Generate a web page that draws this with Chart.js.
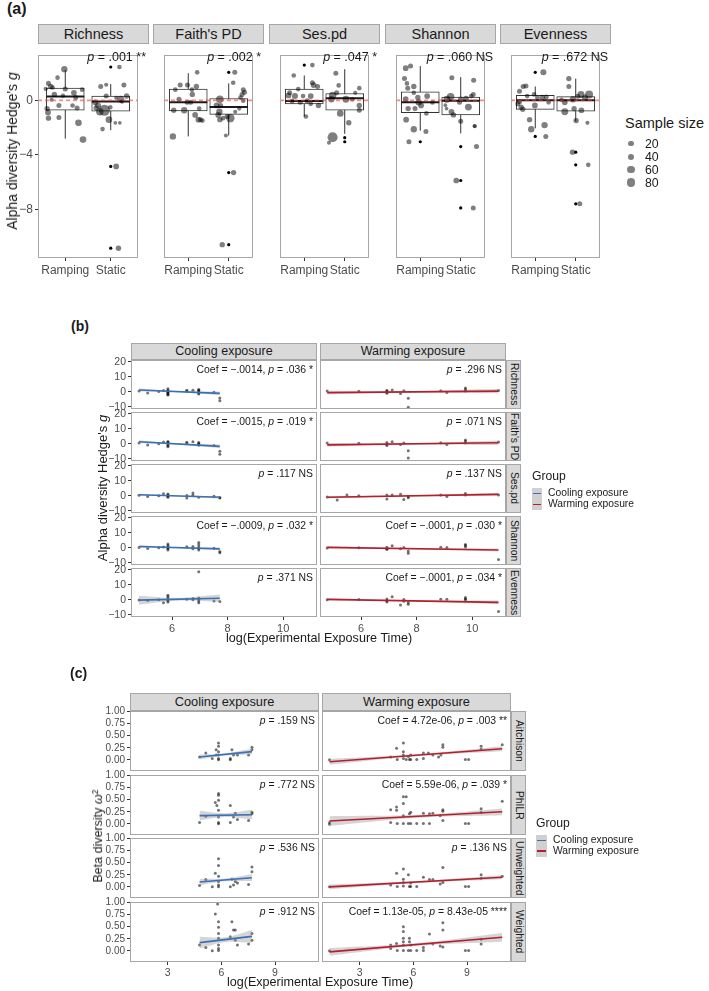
<!DOCTYPE html>
<html>
<head>
<meta charset="utf-8">
<script src="https://cdn.jsdelivr.net/npm/chart.js@4.4.1/dist/chart.umd.min.js"></script>
<style>
  body { margin: 0; background: #fff; }
  #fig { position: relative; width: 709px; height: 991px; overflow: hidden; background: #fff;
         font-family: "Liberation Sans", Arial, sans-serif; color: #1a1a1a; }
  #fig canvas { position: absolute; }
  .t { position: absolute; white-space: nowrap; line-height: 1; }
  .strip { position: absolute; box-sizing: border-box; background: #d9d9d9; border: 1px solid #a6a6a6;
           display: flex; align-items: center; justify-content: center; white-space: nowrap; line-height: 1; }
  .tag { font-weight: bold; }
</style>
</head>
<body>
<div id="fig"></div>
<script>
// ---------- (a) alpha diversity: ramping vs static ----------
const metricsA = ['Richness', "Faith's PD", 'Ses.pd', 'Shannon', 'Evenness'];
const groupsA = ['Ramping', 'Static'];
const pTextA = ['.001 **', '.002 *', '.047 *', '.060 NS', '.672 NS'];
const sizeBreaks = [20, 40, 60, 80];

// box stats per group: [lower whisker, Q1, median, Q3, upper whisker]
const boxRichness = [[-2.80, -0.72, 0.28, 0.90, 2.22], [-2.18, -0.79, -0.07, 0.32, 1.20]];
const boxFaith    = [[-2.64, -0.76, -0.14, 0.83, 1.99], [-2.57, -1.02, -0.49, 0.14, 1.25]];
const boxSes      = [[-1.18, -0.25, -0.05, 0.83, 1.83], [-2.45, -0.72, 0.16, 0.51, 2.29]];
const boxShannon  = [[-2.22, -0.90, -0.14, 0.63, 2.52], [-2.41, -1.06, -0.02, 0.25, 1.71]];
const boxEvenness = [[-2.04, -0.65, 0.02, 0.37, 1.02], [-1.53, -0.79, 0.02, 0.28, 1.60]];

// boxplot outliers per group
const outRichness = [[], [2.45, -4.84, -10.83]];
const outFaith    = [[], [2.06, -5.29, -10.57]];
const outSes      = [[2.59], [-2.73, -3.03]];
const outShannon  = [[-3.03], [-3.38, -5.87, -7.88]];
const outEvenness = [[2.06, -2.64], [-3.79, -4.72, -7.58]];

// jittered studies: [x position, Hedge's g, sample size]
const ptsRichness = [
  [0.98, 2.29, 40], [0.83, 1.67, 15], [0.63, 1.25, 20], [0.68, 1.02, 25], [0.57, 0.85, 12], [0.72, 0.95, 15],
  [1.00, 0.83, 20], [1.19, 0.56, 30], [1.23, 0.21, 20], [1.37, 0.79, 15], [0.76, 0.44, 25], [0.95, 0.35, 12],
  [0.86, -0.37, 20], [0.60, -0.60, 25], [0.62, -0.88, 30], [0.63, -1.30, 25], [0.86, -1.25, 20], [1.16, -0.37, 15],
  [1.26, -0.56, 20], [1.29, -1.64, 45], [1.39, -2.87, 45], [0.70, 0.05, 10],
  [1.78, 1.02, 20], [1.90, 1.15, 10], [2.29, 1.13, 20], [2.19, 2.45, 15], [1.66, -0.14, 30], [1.72, -0.37, 35],
  [1.76, -0.83, 60], [1.86, -0.72, 150], [1.90, 0.32, 20], [1.99, -0.50, 15], [2.22, 0.09, 50], [2.35, 0.32, 25],
  [1.96, -1.41, 45], [1.82, -2.10, 15], [2.10, -1.64, 5], [2.20, -1.64, 5], [2.12, 0.20, 8], [2.25, -0.10, 8],
  [1.68, -0.55, 25], [2.12, -4.84, 30], [2.17, -10.84, 25]
];
const ptsFaith = [
  [1.22, 2.06, 15], [0.80, 1.13, 20], [0.98, 1.13, 20], [1.20, 1.02, 25], [0.68, 0.79, 15], [1.09, 0.79, 15],
  [1.10, 0.44, 25], [0.77, 0.09, 20], [0.97, -0.14, 20], [1.06, -0.14, 20], [0.90, -0.72, 40], [0.64, -0.72, 25],
  [1.17, -1.06, 30], [1.25, -1.41, 30], [1.30, -1.41, 20], [1.35, -1.48, 15], [0.62, -2.64, 40], [1.27, -0.60, 15],
  [2.15, 2.06, 20], [2.11, 1.30, 15], [2.36, 0.79, 20], [2.39, 0.60, 20], [2.33, 0.44, 20], [2.29, 0.21, 15],
  [1.78, 0.09, 60], [1.70, -0.37, 30], [1.80, -0.37, 20], [1.77, -0.83, 40], [1.74, -1.06, 30], [1.78, -1.41, 25],
  [2.04, -1.30, 80], [1.96, -1.18, 20], [1.86, -1.30, 15], [2.16, -0.83, 10], [2.26, -0.60, 10], [2.36, -0.02, 15],
  [1.93, -2.57, 8], [2.12, -5.29, 25], [1.84, -10.57, 25]
];
const ptsSes = [
  [1.20, 2.59, 15], [0.74, 1.83, 15], [1.20, 1.30, 20], [1.23, 1.13, 30], [1.33, 1.02, 20], [0.85, 0.83, 15],
  [0.64, 0.56, 20], [0.77, 0.32, 35], [0.61, 0.37, 30], [1.16, 0.32, 30], [0.97, 0.32, 15], [0.90, -0.14, 20],
  [1.07, -0.02, 20], [1.16, -0.25, 15], [1.35, -0.37, 25], [1.04, -1.18, 15], [0.70, -0.05, 20],
  [1.78, 1.99, 20], [2.36, 0.90, 15], [2.26, 0.56, 10], [1.70, 0.37, 60], [1.67, 0.09, 40], [1.80, 0.56, 20],
  [2.03, 0.09, 50], [2.19, 0.09, 15], [2.36, -0.37, 25], [1.89, -0.95, 45], [2.10, -1.64, 25], [1.70, -2.70, 120],
  [2.36, -0.72, 20], [1.85, 1.10, 15], [1.61, -3.10, 8]
];
const ptsShannon = [
  [0.64, 2.36, 30], [0.76, 2.52, 20], [0.61, 1.60, 20], [0.67, 1.25, 15], [0.84, 1.02, 25], [0.69, 0.90, 20],
  [0.84, 0.56, 15], [0.64, 0.09, 30], [0.94, 0.21, 25], [1.17, 0.32, 30], [0.70, -0.60, 25], [0.96, -0.14, 40],
  [1.02, -0.37, 30], [0.87, -0.60, 20], [0.65, -1.41, 30], [1.15, -0.95, 15], [0.84, -2.11, 40], [1.14, -2.27, 20],
  [0.72, -3.03, 20], [1.30, -0.15, 15],
  [1.78, 1.67, 20], [2.32, 1.48, 20], [1.66, 0.09, 50], [1.75, 0.28, 60], [2.13, 0.14, 30], [2.00, 0.09, 25],
  [1.97, -0.14, 20], [2.26, 0.32, 15], [2.31, 0.44, 20], [2.19, -0.49, 50], [1.77, -0.83, 30], [1.82, -1.06, 25],
  [2.00, -1.53, 20], [2.34, -1.88, 8], [2.35, -1.90, 8], [2.39, -3.38, 20], [1.89, -5.87, 30], [2.31, -7.88, 20],
  [1.62, -0.35, 5], [1.65, -0.60, 5]
];
const ptsEvenness = [
  [1.20, 2.06, 35], [0.77, 1.06, 20], [0.70, 1.02, 20], [0.61, 0.67, 20], [0.80, 0.32, 15], [0.97, 0.44, 15],
  [1.17, 0.21, 25], [1.27, 0.25, 20], [1.33, -0.14, 15], [0.61, -0.09, 20], [0.65, -0.49, 25], [0.69, -0.65, 25],
  [0.57, -0.25, 20], [0.99, -0.37, 30], [0.86, -1.41, 25], [0.90, -2.11, 40], [1.23, -1.81, 40], [1.26, -2.64, 20],
  [1.05, 0.20, 15],
  [1.83, 1.60, 25], [1.83, 1.02, 20], [2.13, 0.44, 50], [2.33, 0.44, 70], [2.23, 0.21, 35], [1.93, 0.09, 40],
  [1.73, -0.14, 30], [1.73, -0.83, 50], [1.96, -0.60, 25], [2.14, -0.72, 30], [2.01, -1.48, 25], [2.29, -1.64, 10],
  [1.92, -3.79, 25], [2.10, -7.58, 20], [2.31, -4.72, 15], [2.05, 0.30, 20], [1.65, 0.05, 15]
];

// ---------- (b) alpha diversity vs log exposure time ----------
const bFacets = ['Richness', "Faith's PD", 'Ses.pd', 'Shannon', 'Evenness'];
const bCoolText = ['Coef = \u2212.0014, <i>p</i> = .036 *', 'Coef = \u2212.0015, <i>p</i> = .019 *', '<i>p</i> = .117 NS',
                   'Coef = \u2212.0009, <i>p</i> = .032 *', '<i>p</i> = .371 NS'];
const bWarmText = ['<i>p</i> = .296 NS', '<i>p</i> = .071 NS', '<i>p</i> = .137 NS',
                   'Coef = \u2212.0001, <i>p</i> = .030 *', 'Coef = \u2212.0001, <i>p</i> = .034 *'];
const bCoolPts = [
  [[4.81,0.5],[5.12,-0.8],[5.52,0.1],[5.69,0.8],[5.85,2.0],[5.85,1.0],[5.85,0.3],[5.85,0.0],[5.85,-0.5],[5.85,-1.2],[5.85,-1.8],[5.85,-2.2],[6.53,0.9],[6.53,0.3],[6.75,1.0],[6.96,1.5],[6.96,1.0],[6.96,0.5],[6.96,-0.4],[6.96,-0.9],[6.96,-1.5],[7.51,-0.3],[7.72,-4.2],[7.72,-6.0]],
  [[4.81,0.5],[5.12,-0.9],[5.52,0.0],[5.69,1.2],[5.85,1.5],[5.85,0.9],[5.85,0.5],[5.85,-0.5],[5.85,-1.3],[5.85,-2.0],[6.53,1.0],[6.53,0.2],[6.75,1.3],[6.96,0.8],[6.96,0.2],[6.96,-0.5],[6.96,-1.0],[7.51,-1.2],[7.72,-5.0],[7.72,-7.0]],
  [[4.81,0.3],[5.12,-0.5],[5.52,0.0],[5.69,1.3],[5.85,1.2],[5.85,0.5],[5.85,0.0],[5.85,-0.4],[5.85,-1.1],[6.53,0.1],[6.53,-1.5],[6.75,1.8],[6.75,0.3],[6.96,-1.0],[7.51,-0.4],[7.72,-1.2],[7.72,-1.6]],
  [[4.81,0.2],[5.12,-0.5],[5.52,0.0],[5.69,0.5],[5.85,2.5],[5.85,1.5],[5.85,0.5],[5.85,0.0],[5.85,-0.5],[5.85,-1.5],[6.53,0.6],[6.75,0.8],[6.75,-0.7],[6.96,3.5],[6.96,2.0],[6.96,0.5],[6.96,-0.5],[6.96,-1.5],[7.51,-0.3],[7.72,-2.5],[7.72,-3.4]],
  [[4.81,-0.2],[5.12,-0.5],[5.52,0.0],[5.69,-2.0],[5.85,3.0],[5.85,2.0],[5.85,0.8],[5.85,0.0],[5.85,-0.5],[5.85,-1.5],[6.53,0.3],[6.75,0.8],[6.75,0.0],[6.96,18.7],[6.96,1.2],[6.96,0.3],[6.96,-0.8],[6.96,-2.0],[7.51,-0.8],[7.72,-1.2]]
];
const bWarmPts = [
  [[4.78,0.5],[5.92,0.3],[6.93,0.8],[6.93,0.4],[6.93,-0.3],[6.93,-1.0],[7.12,1.2],[7.42,-1.2],[7.54,0.7],[7.70,-4.4],[7.70,-10.4],[8.87,0.6],[9.09,-0.5],[9.76,2.5],[9.76,1.5],[9.76,0.5],[10.95,0.8]],
  [[4.78,0.5],[5.92,0.3],[6.93,0.8],[6.93,-0.3],[6.93,-1.2],[7.12,1.3],[7.42,-0.5],[7.54,0.5],[7.70,-4.7],[7.70,-9.5],[8.87,0.6],[9.09,-0.5],[9.76,2.5],[9.76,1.5],[9.76,0.5],[10.95,1.2]],
  [[4.78,-0.8],[5.14,-2.9],[5.49,0.4],[5.92,0.0],[6.93,0.5],[6.93,-2.2],[7.12,0.5],[7.42,0.9],[7.54,-2.5],[7.70,-1.3],[7.70,-0.6],[8.87,0.4],[9.09,-0.5],[9.76,1.5],[9.76,0.5],[10.95,0.4]],
  [[4.78,-0.2],[5.92,0.0],[6.93,0.3],[6.93,-0.8],[6.93,-1.0],[7.12,1.3],[7.42,-0.7],[7.54,0.2],[7.70,-2.2],[7.70,-3.7],[8.87,0.3],[9.09,0.1],[9.76,2.2],[9.76,1.5],[9.76,0.5],[10.95,-7.8]],
  [[4.78,0.0],[5.92,0.2],[6.93,0.5],[6.93,-0.7],[6.93,-1.5],[7.12,2.0],[7.42,-3.5],[7.54,0.2],[7.54,-1.0],[7.70,-3.0],[7.70,-1.8],[8.87,0.3],[9.09,0.3],[9.76,1.5],[9.76,0.5],[9.76,0.0],[10.95,-7.8]]
];
// fitted line [x0, y0, x1, y1] and confidence band [x, lower, upper]
const bCoolFit = [[4.81,1.1,7.72,-1.1],[4.81,1.3,7.72,-1.8],[4.81,0.6,7.72,-1.0],[4.81,0.8,7.72,-0.8],[4.81,-0.3,7.72,1.0]];
const bWarmFit = [[4.78,-0.6,10.95,0.4],[4.78,-0.8,10.95,0.6],[4.78,-1.0,10.95,0.9],[4.78,0.2,10.95,-1.5],[4.78,0.2,10.95,-1.8]];
const bCoolBand = [
  [[4.81,0.1,2.1],[6.2,-0.35,0.45],[7.72,-2.3,0.1]],
  [[4.81,0.3,2.3],[6.2,-0.58,0.22],[7.72,-3.0,-0.6]],
  [[4.81,-0.1,1.3],[6.2,-0.46,0.14],[7.72,-1.8,-0.2]],
  [[4.81,0.0,1.6],[6.2,-0.26,0.34],[7.72,-1.7,0.1]],
  [[4.81,-3.3,2.7],[6.2,-0.7,1.3],[7.72,-1.5,3.5]]
];
const bWarmBand = [
  [[4.78,-1.8,0.6],[7.5,-0.56,0.24],[10.95,-1.1,1.9]],
  [[4.78,-2.0,0.4],[7.5,-0.58,0.22],[10.95,-0.9,2.1]],
  [[4.78,-1.8,-0.2],[7.5,-0.46,0.14],[10.95,-0.1,1.9]],
  [[4.78,-0.6,1.0],[7.5,-0.85,-0.25],[10.95,-2.5,-0.5]],
  [[4.78,-0.6,1.0],[7.5,-0.98,-0.38],[10.95,-3.0,-0.6]]
];

// ---------- (c) beta diversity vs log exposure time ----------
const cFacets = ['Aitchison', 'PhILR', 'Unweighted', 'Weighted'];
const cCoolText = ['<i>p</i> = .159 NS', '<i>p</i> = .772 NS', '<i>p</i> = .536 NS', '<i>p</i> = .912 NS'];
const cWarmText = ['Coef = 4.72e-06, <i>p</i> = .003 **', 'Coef = 5.59e-06, <i>p</i> = .039 *', '<i>p</i> = .136 NS',
                   'Coef = 1.13e-05, <i>p</i> = 8.43e-05 ****'];
const cCoolPts = [
  [[4.78,0.06],[5.13,0.14],[5.49,0.03],[5.71,0.21],[5.71,0.10],[5.84,0.35],[5.84,0.28],[5.84,0.17],[5.84,0.10],[5.84,0.03],[5.84,0.0],[6.50,0.0],[6.50,0.03],[6.59,0.21],[6.68,0.10],[6.90,0.10],[7.52,0.10],[7.71,0.26],[7.71,0.21]],
  [[4.78,0.03],[5.13,0.16],[5.66,0.44],[5.75,0.38],[5.84,0.63],[5.84,0.59],[5.84,0.49],[5.84,0.28],[5.84,0.14],[5.84,0.03],[5.84,0.0],[6.50,0.38],[6.50,0.03],[6.68,0.14],[6.78,0.22],[6.90,0.09],[7.52,0.07],[7.71,0.24],[7.71,0.21]],
  [[4.78,0.03],[5.13,0.15],[5.49,0.0],[5.66,0.28],[5.84,0.58],[5.84,0.44],[5.84,0.22],[5.84,0.11],[5.84,0.04],[5.84,0.0],[6.50,0.0],[6.59,0.16],[6.68,0.04],[6.78,0.11],[6.90,0.08],[7.52,0.05],[7.71,0.41],[7.71,0.31]],
  [[4.78,0.12],[5.13,0.07],[5.49,0.0],[5.66,0.76],[5.79,0.97],[5.84,0.60],[5.84,0.49],[5.84,0.36],[5.84,0.26],[5.84,0.12],[5.84,0.05],[5.84,0.01],[6.50,0.29],[6.59,0.60],[6.68,0.43],[6.78,0.43],[6.90,0.12],[6.78,0.22],[7.52,0.14],[7.71,0.36],[7.71,0.22]]
];
const cWarmPts = [
  [[1.31,0.0],[4.73,0.06],[5.06,0.24],[5.10,0.01],[5.44,0.35],[5.44,0.17],[5.44,0.10],[5.44,0.03],[5.60,0.01],[5.72,0.07],[5.78,0.01],[5.85,0.01],[5.85,0.10],[6.19,0.01],[6.56,0.14],[6.56,0.03],[6.84,0.14],[7.09,0.10],[7.41,0.06],[7.54,0.10],[7.65,0.31],[7.65,0.26],[8.91,0.01],[9.09,0.01],[9.79,0.28],[9.79,0.22],[10.97,0.31]],
  [[1.31,0.03],[1.31,-0.01],[4.73,0.03],[4.73,0.29],[5.06,0.35],[5.06,0.28],[5.10,0.01],[5.44,0.56],[5.60,0.56],[5.44,0.42],[5.44,0.17],[5.44,0.01],[5.72,0.01],[5.85,0.01],[5.78,0.21],[5.85,0.24],[6.19,0.01],[6.56,0.22],[6.56,0.01],[6.90,0.01],[6.90,0.21],[7.09,0.22],[7.50,0.17],[7.65,0.29],[7.65,0.26],[7.65,0.07],[8.91,0.01],[9.09,0.01],[9.79,0.31],[9.79,0.24],[10.97,0.47]],
  [[1.31,0.0],[4.73,0.04],[5.06,0.28],[5.10,0.01],[5.44,0.37],[5.44,0.16],[5.44,0.09],[5.44,0.02],[5.72,0.25],[5.78,0.01],[5.85,0.01],[5.85,0.08],[6.19,0.01],[6.56,0.20],[6.90,0.15],[7.09,0.15],[7.50,0.06],[7.65,0.09],[7.65,0.40],[8.91,0.01],[9.09,0.01],[9.79,0.25],[9.79,0.18],[10.97,0.22]],
  [[1.31,0.0],[4.73,0.05],[4.73,0.12],[5.06,0.15],[5.10,0.01],[5.44,0.50],[5.44,0.40],[5.44,0.26],[5.44,0.19],[5.44,0.12],[5.44,0.01],[5.78,0.26],[5.78,0.19],[5.72,0.01],[5.85,0.01],[5.85,0.12],[6.19,0.01],[6.56,0.07],[6.56,0.01],[6.90,0.35],[7.09,0.14],[7.50,0.10],[7.65,0.58],[7.65,0.43],[7.65,0.08],[8.91,0.01],[9.09,0.01],[9.79,0.24],[9.79,0.14]]
];
const cCoolFit = [[4.78,0.06,7.71,0.17],[4.78,0.17,7.71,0.19],[4.78,0.10,7.71,0.19],[4.78,0.17,7.71,0.30]];
const cWarmFit = [[1.31,-0.04,10.97,0.23],[1.31,0.06,10.97,0.25],[1.31,0.0,10.97,0.20],[1.31,-0.02,10.97,0.28]];
const cCoolBand = [
  [[4.78,0.01,0.11],[6.2,0.088,0.138],[7.71,0.11,0.23]],
  [[4.78,0.07,0.27],[6.2,0.14,0.22],[7.71,0.09,0.29]],
  [[4.78,0.03,0.17],[6.2,0.114,0.174],[7.71,0.12,0.26]],
  [[4.78,0.05,0.29],[6.2,0.18,0.28],[7.71,0.17,0.43]]
];
const cWarmBand = [
  [[1.31,-0.10,0.02],[6.3,0.08,0.12],[10.97,0.18,0.28]],
  [[1.31,-0.04,0.16],[6.3,0.128,0.188],[10.97,0.18,0.32]],
  [[1.31,-0.05,0.05],[6.3,0.083,0.123],[10.97,0.16,0.24]],
  [[1.31,-0.10,0.06],[6.3,0.105,0.165],[10.97,0.19,0.37]]
];

// ---------- drawing ----------
Chart.defaults.font.family = '"Liberation Sans", Arial, sans-serif';
const fig = document.getElementById('fig');
const M = 10;  // spare room round each canvas so edge tick labels are not cut
const TICK = '#4d4d4d', FRAME = '#a6a6a6', LINE = '#333333';
const BLUE = '#3a70b5', RED = '#b51f2a', BAND = 'rgba(150,150,150,0.4)';
const sizeR = n => Math.sqrt(2.5 + 0.19 * n);
const minus = v => (v < 0 ? '\u2212' + Math.abs(v) : String(v));

const frame = {
  id: 'frame',
  afterDraw(chart) {
    const { ctx, chartArea: a } = chart;
    ctx.save();
    ctx.strokeStyle = FRAME;
    ctx.lineWidth = 1;
    ctx.strokeRect(a.left + 0.5, a.top + 0.5, a.width - 1, a.height - 1);
    ctx.restore();
  }
};

function axis(a, show, size, isX) {
  return {
    type: 'linear', min: a.range[0], max: a.range[1], display: show,
    offset: false, beginAtZero: false,
    afterBuildTicks: s => { s.ticks = a.ticks.map(v => ({ value: v })); },
    afterFit: s => {
      if (isX) s.height = size; else s.width = size;
      s.paddingLeft = s.paddingRight = s.paddingTop = s.paddingBottom = 0;
    },
    grid: { offset: false, drawOnChartArea: false, drawTicks: true, tickLength: 3, color: LINE, lineWidth: 1 },
    border: { display: false },
    ticks: { color: TICK, font: { size: a.font }, padding: 2, autoSkip: false, maxRotation: 0, callback: a.fmt }
  };
}

function panel(box, datasets, xa, ya) {
  const axL = ya.show ? ya.size : 0, axB = xa.show ? xa.size : 0;
  const cv = document.createElement('canvas');
  cv.width = box.w + axL + 2 * M;
  cv.height = box.h + axB + 2 * M;
  cv.style.left = (box.x - axL - M) + 'px';
  cv.style.top = (box.y - M) + 'px';
  fig.appendChild(cv);
  return new Chart(cv, {
    type: 'scatter',
    data: { datasets },
    options: {
      responsive: false, animation: false, devicePixelRatio: 1, events: [],
      layout: { padding: M },
      plugins: { legend: { display: false }, tooltip: { enabled: false } },
      scales: { x: axis(xa, xa.show, axB, true), y: axis(ya, ya.show, axL, false) }
    },
    plugins: [frame]
  });
}

function text(html, x, y, css, tf) {
  const d = document.createElement('div');
  d.className = 't';
  d.innerHTML = html;
  d.style.cssText = `left:${x}px;top:${y}px;transform:${tf || 'translate(0,-50%)'};` + (css || '');
  fig.appendChild(d);
  return d;
}

function strip(label, x, y, w, h, size, side) {
  const d = document.createElement('div');
  d.className = 'strip';
  d.style.cssText = `left:${x}px;top:${y}px;width:${w}px;height:${h}px;font-size:${size}px;`;
  const s = document.createElement('span');
  s.textContent = label;
  if (side) s.style.writingMode = 'vertical-rl';
  d.appendChild(s);
  fig.appendChild(d);
}

// (a)
text('(a)', 7, 9, 'font-size:16px;', 'translate(0,-50%)').classList.add('tag');
const boxesA = [boxRichness, boxFaith, boxSes, boxShannon, boxEvenness];
const outA = [outRichness, outFaith, outSes, outShannon, outEvenness];
const ptsA = [ptsRichness, ptsFaith, ptsSes, ptsShannon, ptsEvenness];
const aLeft = [38, 153, 269, 385, 500], aW = 111, aTop = 44, aH = 214;

metricsA.forEach((m, i) => {
  strip(m, aLeft[i], 24, aW, 20, 14.5);
  const box = boxesA[i];
  const ds = [];
  box.forEach((b, k) => ds.push({
    type: 'line', data: [{ x: k + 1, y: b[0] }, { x: k + 1, y: b[4] }],
    borderColor: LINE, borderWidth: 1, pointRadius: 0, order: 6
  }));
  ds.push({
    type: 'bar', data: box.map((b, k) => ({ x: k + 1, y: [b[1], b[3]] })),
    backgroundColor: '#ffffff', borderColor: LINE, borderWidth: 1, borderSkipped: false, barThickness: 38, order: 5
  });
  ds.push({
    data: box.map((b, k) => ({ x: k + 1, y: b[2] })),
    pointStyle: 'line', pointRadius: 19, borderColor: '#1a1a1a', borderWidth: 2, order: 4
  });
  ds.push({
    data: outA[i].flatMap((o, k) => o.map(v => ({ x: k + 1, y: v }))),
    pointRadius: 1.6, backgroundColor: '#000', borderWidth: 0, order: 3
  });
  ds.push({
    data: ptsA[i].map(p => ({ x: p[0], y: p[1], n: p[2] })),
    pointRadius: c => (c.raw ? sizeR(c.raw.n) : 2), backgroundColor: 'rgba(0,0,0,0.5)', borderWidth: 0, order: 2
  });
  ds.push({
    type: 'line', data: [{ x: 0.4, y: 0 }, { x: 2.6, y: 0 }],
    borderColor: 'rgba(245,60,50,0.6)', borderWidth: 1.8, borderDash: [4, 3], pointRadius: 0, order: 1
  });
  panel({ x: aLeft[i], y: aTop, w: aW, h: aH }, ds,
    { show: true, size: 20, range: [0.4, 2.6], ticks: [1, 2], fmt: v => groupsA[v - 1], font: 12 },
    { show: i === 0, size: 22, range: [-11.55, 3.33], ticks: [-8, -4, 0], fmt: minus, font: 12 });
  text(`<i>p</i> = ${pTextA[i]}`, aLeft[i] + aW - 3, 57, 'font-size:12.5px;', 'translate(-100%,-50%)');
});
text("Alpha diversity Hedge's <i>g</i>", 12, 151, 'font-size:14px;', 'translate(-50%,-50%) rotate(-90deg)');

text('Sample size', 625, 123, 'font-size:14.5px;');
sizeBreaks.forEach((n, k) => {
  const y = 143.7 + 13 * k, r = sizeR(n);
  const dot = document.createElement('div');
  dot.style.cssText = `position:absolute;left:${631 - r}px;top:${y - r}px;width:${2 * r}px;height:${2 * r}px;border-radius:50%;background:rgba(0,0,0,0.5);`;
  fig.appendChild(dot);
  text(String(n), 645, y, 'font-size:12.3px;');
});

// (b) and (c) facet grids
function facetSets(pts, fit, band, color) {
  return [
    { type: 'line', data: band.map(b => ({ x: b[0], y: b[2] })), fill: '+1', backgroundColor: BAND,
      borderColor: 'rgba(0,0,0,0)', borderWidth: 1, pointRadius: 0, tension: 0.4, order: 2 },
    { type: 'line', data: band.map(b => ({ x: b[0], y: b[1] })), fill: false,
      borderColor: 'rgba(0,0,0,0)', borderWidth: 1, pointRadius: 0, tension: 0.4, order: 2 },
    { type: 'line', data: [{ x: fit[0], y: fit[1] }, { x: fit[2], y: fit[3] }],
      borderColor: color, borderWidth: 1.6, pointRadius: 0, order: 1 },
    { data: pts.map(p => ({ x: p[0], y: p[1] })), pointRadius: 1.5,
      backgroundColor: 'rgba(0,0,0,0.55)', borderWidth: 0, order: 3 }
  ];
}

function facetGrid(g) {
  g.cols.forEach((col, j) => {
    strip(col.name, g.x[j], g.stripY, g.w, g.stripH, g.stripFont);
    g.rows.forEach((row, r) => {
      const x = g.x[j], y = g.y[r];
      panel({ x, y, w: g.w, h: g.h }, facetSets(col.pts[r], col.fit[r], col.band[r], col.color),
        { show: r === g.rows.length - 1, size: g.axB, range: g.xRange, ticks: g.xTicks, fmt: v => String(v), font: g.xFont },
        { show: j === 0, size: g.axL, range: g.yRange, ticks: g.yTicks, fmt: g.yFmt, font: g.yFont });
      text(col.text[r], x + g.w - 4, y + 9.5, 'font-size:10.4px;', 'translate(-100%,-50%)');
      if (j === g.cols.length - 1) strip(row, x + g.w, y, 15, g.h, 10.3, true);
    });
  });
}

function groupLegend(x, yTitle, yKeys, keyW, textX) {
  text('Group', x, yTitle, 'font-size:12.2px;');
  [['Cooling exposure', BLUE], ['Warming exposure', RED]].forEach(([name, col], k) => {
    const y = yKeys[k];
    const key = document.createElement('div');
    key.style.cssText = `position:absolute;left:${x}px;top:${y - 5.5}px;width:${keyW}px;height:11px;background:#d0d0d0;`;
    const ln = document.createElement('div');
    ln.style.cssText = `position:absolute;left:1px;right:1px;top:4.75px;height:1.5px;background:${col};`;
    key.appendChild(ln);
    fig.appendChild(key);
    text(name, textX, y, 'font-size:10.3px;');
  });
}

text('(b)', 71, 326, 'font-size:14px;').classList.add('tag');
facetGrid({
  rows: bFacets, x: [131, 320], w: 186, y: [360, 412, 464, 516, 568], h: 49,
  stripY: 343, stripH: 17, stripFont: 12.5,
  xRange: [4.52, 11.22], xTicks: [6, 8, 10], xFont: 11, axB: 18,
  yRange: [-11.53, 21.13], yTicks: [-10, 0, 10, 20], yFmt: minus, yFont: 10.5, axL: 30,
  cols: [
    { name: 'Cooling exposure', pts: bCoolPts, fit: bCoolFit, band: bCoolBand, text: bCoolText, color: BLUE },
    { name: 'Warming exposure', pts: bWarmPts, fit: bWarmFit, band: bWarmBand, text: bWarmText, color: RED }
  ]
});
text("Alpha diversity Hedge's <i>g</i>", 102, 488, 'font-size:13px;', 'translate(-50%,-50%) rotate(-90deg)');
text('log(Experimental Exposure Time)', 319, 638, 'font-size:12.6px;', 'translate(-50%,-50%)');
groupLegend(532, 476, [493.3, 504.3], 10, 548);

text('(c)', 70, 673, 'font-size:14px;').classList.add('tag');
facetGrid({
  rows: cFacets, x: [130, 322], w: 189, y: [711, 775, 838, 902], h: 60,
  stripY: 693, stripH: 18, stripFont: 12.8,
  xRange: [0.89, 11.46], xTicks: [3, 6, 9], xFont: 10.5, axB: 18,
  yRange: [-0.23, 1.01], yTicks: [0, 0.25, 0.5, 0.75, 1], yFmt: v => v.toFixed(2), yFont: 10, axL: 34,
  cols: [
    { name: 'Cooling exposure', pts: cCoolPts, fit: cCoolFit, band: cCoolBand, text: cCoolText, color: BLUE },
    { name: 'Warming exposure', pts: cWarmPts, fit: cWarmFit, band: cWarmBand, text: cWarmText, color: RED }
  ]
});
text('Beta diversity <i>\u03c9</i><sup style="font-size:0.7em;vertical-align:0.5em;">2</sup>', 98, 836, 'font-size:12.5px;', 'translate(-50%,-50%) rotate(-90deg)');
text('log(Experimental Exposure Time)', 320, 982, 'font-size:12.6px;', 'translate(-50%,-50%)');
groupLegend(536, 822.7, [840.3, 851], 11, 553);
</script>
</body>
</html>
